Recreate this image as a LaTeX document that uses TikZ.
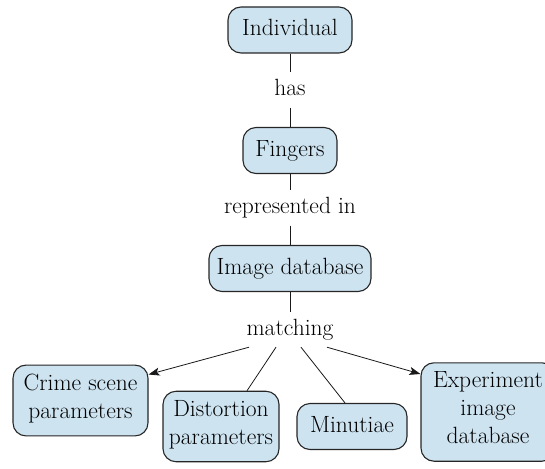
\documentclass[tikz,border=0pt]{standalone}
\usepackage{fontspec}
\setmainfont{Latin Modern Roman}
\usetikzlibrary{arrows.meta}
\definecolor{boxfill}{RGB}{205,227,240}
\begin{document}
\begin{tikzpicture}[x=1pt,y=-1pt,
  txt/.style={font=\fontsize{23.5}{28}\selectfont},
  box/.style={txt, draw=black!85, line width=1.1pt, fill=boxfill, rounded corners=13pt,
    align=center, inner xsep=9pt, inner ysep=9pt,
    execute at begin node=\strut, execute at end node=\strut},
  lab/.style={txt, align=center, inner xsep=3pt, inner ysep=3.5pt,
    execute at begin node=\strut},
  conn/.style={line width=0.8pt, draw=black!90},
  arr/.style={conn, -{Stealth[length=11pt,width=8pt,inset=2.5pt]}}]
\useasboundingbox (0,0) rectangle (545,468);
\node[box, minimum width=124pt] (ind) at (290,30) {Individual};
\node[lab] (has) at (290,90) {has};
\node[box, minimum width=94pt] (fing) at (290,150.5) {Fingers};
\node[lab] (rep) at (290,208) {represented in};
\node[box, minimum width=162pt, inner xsep=4pt] (imdb) at (290,268.5) {Image database};
\node[lab] (match) at (290,329.5) {matching};
\node[box, minimum width=135pt, inner xsep=4pt] (crime) at (80.5,400.5) {Crime scene\\parameters};
\node[box, minimum width=116pt, inner xsep=4pt] (dist) at (221,426.5) {Distortion\\parameters};
\node[box, minimum width=110pt, inner xsep=4pt] (minu) at (352,426.5) {Minutiae};
\node[box, minimum width=134pt, inner xsep=4pt] (exp) at (488,412) {Experiment\\image\\database};
\draw[conn] (ind) -- (has);
\draw[conn] (has) -- (fing);
\draw[conn] (fing) -- (rep);
\draw[conn] (rep) -- (imdb);
\draw[conn] (imdb) -- (match);
\draw[arr] ([xshift=-41pt]match.south) -- ([yshift=26pt]crime.east);
\draw[conn] ([xshift=-14pt]match.south) -- ([xshift=26pt]dist.north);
\draw[conn] ([xshift=11pt]match.south) -- ([xshift=-7pt]minu.north);
\draw[arr] ([xshift=37pt]match.south) -- ([yshift=38pt]exp.west);
\end{tikzpicture}
\end{document}
